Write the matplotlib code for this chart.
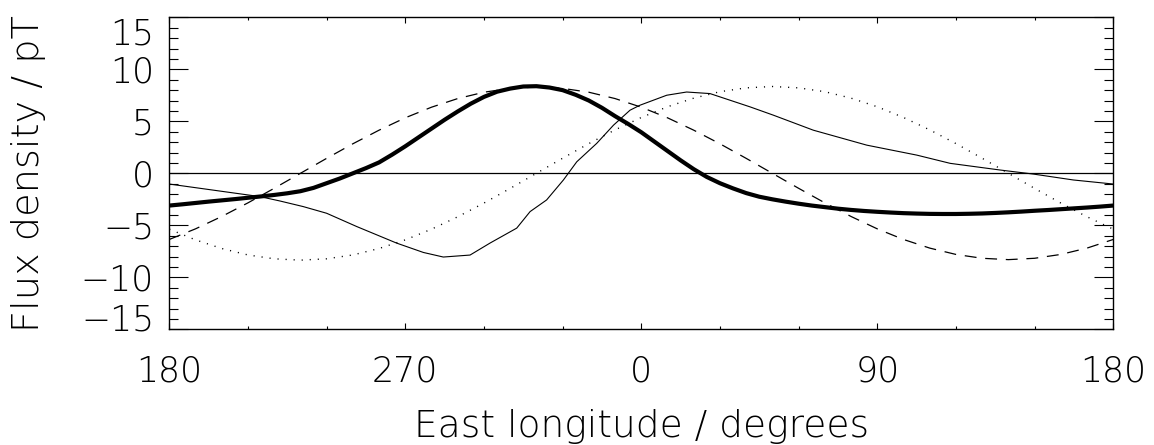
import matplotlib
matplotlib.use("Agg")
import matplotlib.pyplot as plt

plt.rcParams['font.family'] = ['DejaVu Sans']
plt.rcParams['font.weight'] = 'light'

# east longitude, shown on the axis as 180, 270, 0, 90, 180
lon = [-180, -170, -160, -150, -140, -130, -120, -110, -100, -90,
       -80, -70, -60, -50, -40, -30, -20, -10, 0, 10,
       20, 30, 40, 50, 60, 70, 80, 90, 100, 110,
       120, 130, 140, 150, 160, 170, 180]

dashed = [-6.36, -5.34, -4.15, -2.84, -1.44, 0.0, 1.44, 2.84, 4.15, 5.34,
          6.36, 7.19, 7.80, 8.17, 8.3, 8.17, 7.80, 7.19, 6.36, 5.34,
          4.15, 2.84, 1.44, 0.0, -1.44, -2.84, -4.15, -5.34, -6.36, -7.19,
          -7.80, -8.17, -8.3, -8.17, -7.80, -7.19, -6.36]

dotted = [-5.37, -6.40, -7.23, -7.85, -8.22, -8.35, -8.22, -7.85, -7.23, -6.40,
          -5.37, -4.18, -2.86, -1.45, 0.0, 1.45, 2.86, 4.18, 5.37, 6.40,
          7.23, 7.85, 8.22, 8.35, 8.22, 7.85, 7.23, 6.40, 5.37, 4.18,
          2.86, 1.45, 0.0, -1.45, -2.86, -4.18, -5.37]

thick_lon = list(range(-180, 181, 5))
thick = [-3.1, -2.98, -2.85, -2.72, -2.6, -2.48, -2.35, -2.22, -2.08, -1.92,
         -1.72, -1.4, -0.95, -0.5, 0.0, 0.5, 1.05, 1.8, 2.6, 3.45,
         4.3, 5.15, 5.95, 6.7, 7.35, 7.85, 8.15, 8.35, 8.38, 8.25,
         8.0, 7.55, 7.0, 6.3, 5.5, 4.75, 3.95, 3.05, 2.15, 1.25,
         0.4, -0.35, -0.95, -1.45, -1.9, -2.25, -2.5, -2.72, -2.92, -3.1,
         -3.25, -3.4, -3.52, -3.62, -3.7, -3.77, -3.83, -3.87, -3.9, -3.91,
         -3.91, -3.89, -3.86, -3.81, -3.75, -3.68, -3.6, -3.53, -3.45, -3.37,
         -3.29, -3.2, -3.1]

# observed (thin, irregular) curve
obs_lon = [-180, -145.4, -137.8, -128.9, -120, -108.5, -93.3, -83.1, -75.5, -65.3,
           -57.7, -47.5, -42.4, -36.1, -29.7, -24.6, -17, -10.6, -4.3, -0.5,
           9.7, 17.3, 26.2, 41.5, 50.4, 65.6, 86, 105.1, 117.8, 136.8,
           149.5, 164.8, 180]
obs = [-1.03, -2.24, -2.66, -3.2, -3.84, -5.12, -6.71, -7.61, -8.05, -7.86,
       -6.71, -5.27, -3.68, -2.56, -0.64, 1.11, 2.88, 4.63, 6.07, 6.55,
       7.51, 7.82, 7.67, 6.39, 5.59, 4.15, 2.71, 1.75, 0.96, 0.32,
       -0.07, -0.64, -1.03]

xticks = [-180, -90, 0, 90, 180]
xticklabels = ['180', '270', '0', '90', '180']
yticks = [-15, -10, -5, 0, 5, 10, 15]
yticklabels = ['', '\u221210', '\u22125', '0', '5', '10', '']

fig = plt.figure(figsize=(11.54, 4.45), dpi=100)
ax = fig.add_axes([0.1467, 0.26, 0.818, 0.701])

ax.axhline(0, color='black', lw=0.9)
ax.plot(thick_lon, thick, color='black', lw=3.0, solid_capstyle='butt')
ax.plot(lon, dashed, color='black', lw=0.9, dashes=(9.5, 7))
ax.plot(lon, dotted, color='black', lw=1.0, dashes=(0.8, 5))
ax.plot(obs_lon, obs, color='black', lw=0.8)

ax.set_xlim(-180, 180)
ax.set_ylim(-15, 15)
ax.set_xticks(xticks)
ax.set_xticklabels(xticklabels, fontweight='light')
ax.set_xticks(range(-180, 181, 30), minor=True)
ax.set_yticks(yticks)
ax.set_yticklabels(yticklabels, fontweight='light')
ax.set_yticks(range(-15, 16), minor=True)

ax.tick_params(axis='both', which='both', direction='in', top=True, right=True,
               width=0.8, labelsize=25)
ax.tick_params(axis='x', which='major', length=4.3, pad=18)
ax.tick_params(axis='x', which='minor', length=2.2)
ax.tick_params(axis='y', which='major', length=13.7, pad=11)
ax.tick_params(axis='y', which='minor', length=6.8)
for s in ax.spines.values():
    s.set_linewidth(1.0)

# end labels of the y axis sit inside the frame, as in the original
ax.annotate('15', xy=(0, 15), xycoords=('axes fraction', 'data'),
            xytext=(-11, -10), textcoords='offset points',
            ha='right', va='center_baseline', fontsize=25, fontweight='light')
ax.annotate('\u221215', xy=(0, -15), xycoords=('axes fraction', 'data'),
            xytext=(-11, 9), textcoords='offset points',
            ha='right', va='center_baseline', fontsize=25, fontweight='light')

ax.set_xlabel('East longitude / degrees', fontsize=27, fontweight='light')
ax.set_ylabel('Flux density / pT', fontsize=27.5, fontweight='light')
ax.xaxis.set_label_coords(0.5, -0.255)
ax.yaxis.set_label_coords(-0.131, 0.5)

fig.savefig('out.png', dpi=100)
